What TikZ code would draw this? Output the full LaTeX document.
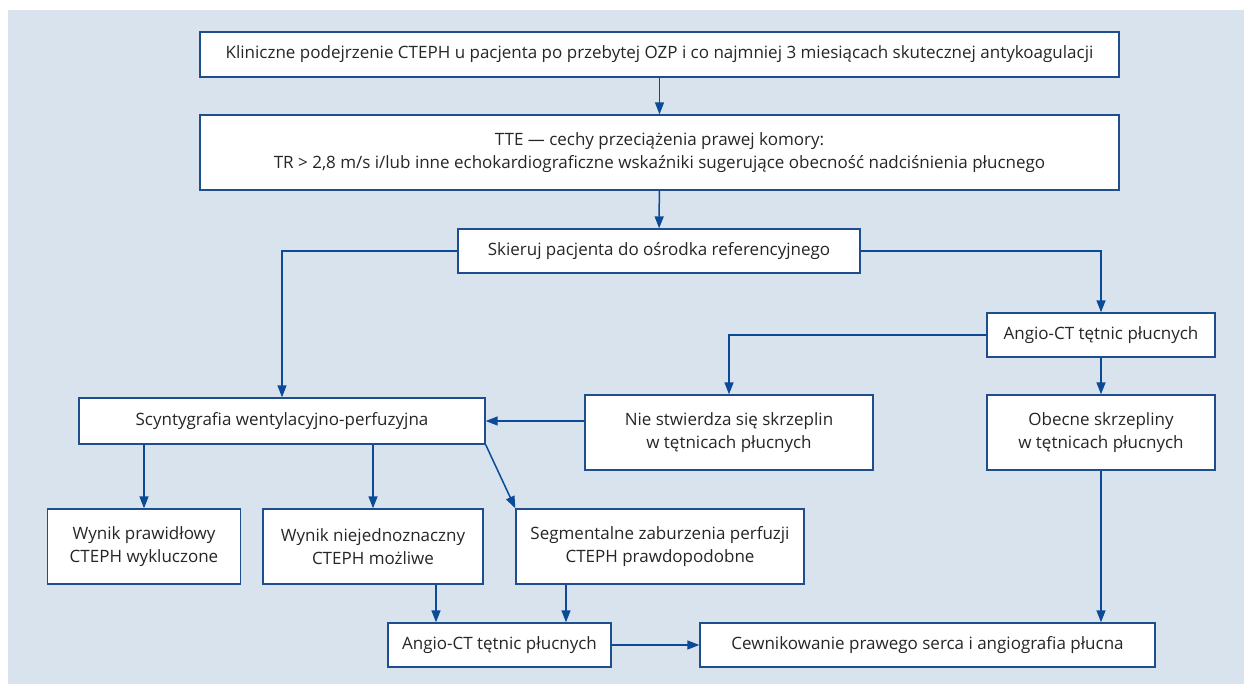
\documentclass[tikz,border=0pt]{standalone}
\usepackage{fontspec}
\setmainfont{Open Sans}
\usepackage{tikz}
\usetikzlibrary{arrows.meta}
\definecolor{PanelBlue}{HTML}{D9E3EE}
\definecolor{FrameBlue}{HTML}{1F4E8E}
\definecolor{LinkBlue}{HTML}{0B4A96}
\definecolor{InkGrey}{HTML}{262626}
\tikzset{
  flowbox/.style={rectangle, draw=FrameBlue, fill=white, line width=1.4pt, text=InkGrey, align=center, inner sep=0pt, font=\fontsize{17}{23}\selectfont},
  arrow/.style={-{Triangle[length=12pt,width=9pt]}, line width=1.5pt, LinkBlue}
}
\begin{document}
\begin{tikzpicture}[x=1pt,y=-1pt]
  % canvas
  \useasboundingbox (0,0) rectangle (1244,684);
  \fill[white] (0,0) rectangle (1244,684);
  \fill[PanelBlue] (8,10) rectangle (1244,684);

  % top of the chart
  \node[flowbox, minimum width=919pt, minimum height=45pt] (suspect) at (659.5,54.5) {Kliniczne podejrzenie CTEPH u pacjenta po przebytej OZP i co najmniej 3 miesiącach skutecznej antykoagulacji};
  \node[flowbox, minimum width=919pt, minimum height=75pt] (tte) at (659.5,152.5) {TTE — cechy przeciążenia prawej komory:\\TR > 2,8 m/s i/lub inne echokardiograficzne wskaźniki sugerujące obecność nadciśnienia płucnego};
  \node[flowbox, minimum width=402pt, minimum height=44pt] (refer) at (659,251) {Skieruj pacjenta do ośrodka referencyjnego};

  % right branch
  \node[flowbox, minimum width=228pt, minimum height=44pt] (ctright) at (1101,335) {Angio-CT tętnic płucnych};
  \node[flowbox, minimum width=288pt, minimum height=75pt] (noclot) at (729,432.5) {Nie stwierdza się skrzeplin\\w tętnicach płucnych};
  \node[flowbox, minimum width=228pt, minimum height=75pt] (clot) at (1101,432.5) {Obecne skrzepliny\\w tętnicach płucnych};

  % left branch
  \node[flowbox, minimum width=406pt, minimum height=46pt] (vq) at (282,421) {Scyntygrafia wentylacyjno-perfuzyjna};
  \node[flowbox, minimum width=193pt, minimum height=75pt] (normal) at (144,546.5) {Wynik prawidłowy\\CTEPH wykluczone};
  \node[flowbox, minimum width=220pt, minimum height=75pt] (unclear) at (373,546.5) {Wynik niejednoznaczny\\CTEPH możliwe};
  \node[flowbox, minimum width=288pt, minimum height=75pt] (segment) at (660,546.5) {Segmentalne zaburzenia perfuzji\\CTEPH prawdopodobne};

  % bottom row
  \node[flowbox, minimum width=223pt, minimum height=44pt] (ctleft) at (499.5,645) {Angio-CT tętnic płucnych};
  \node[flowbox, minimum width=455pt, minimum height=44pt] (rhc) at (927.5,645) {Cewnikowanie prawego serca i angiografia płucna};
  \coordinate (inA) at ([xshift=-63.5pt]ctleft.north);
  \coordinate (inB) at ([xshift=66.5pt]ctleft.north);

  % connectors
  \draw[arrow] (suspect) -- (tte);
  \draw[arrow] (tte) -- (refer);
  \draw[arrow] (refer.west) -| (vq.north);
  \draw[arrow] (refer.east) -| (ctright.north);
  \draw[arrow] (ctright.west) -| (noclot.north);
  \draw[arrow] (ctright) -- (clot);
  \draw[arrow] (noclot.west |- vq.east) -- (vq.east);
  \draw[arrow] (vq.south -| normal.north) -- (normal.north);
  \draw[arrow] (vq.south -| unclear.north) -- (unclear.north);
  \draw[arrow] (vq.south east) -- (segment.north west);
  \draw[arrow] (unclear.south -| inA) -- (inA);
  \draw[arrow] (segment.south -| inB) -- (inB);
  \draw[arrow] (ctleft) -- (rhc);
  \draw[arrow] (clot.south) -- (clot.south |- rhc.north);
\end{tikzpicture}
\end{document}
